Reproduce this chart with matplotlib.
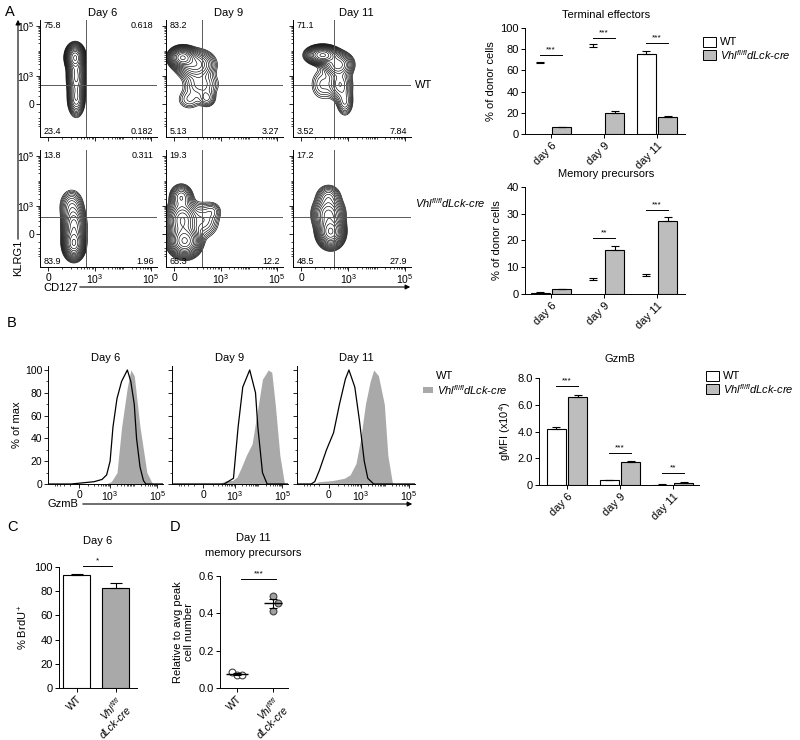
import numpy as np
import matplotlib
matplotlib.use("Agg")
import matplotlib.pyplot as plt
from matplotlib.patches import Rectangle, FancyArrowPatch

plt.rcParams["font.family"] = ["Liberation Sans", "DejaVu Sans"]
plt.rcParams["mathtext.fontset"] = "custom"
plt.rcParams["mathtext.rm"] = "Liberation Sans"
plt.rcParams["mathtext.it"] = "Liberation Sans:italic"
plt.rcParams["font.size"] = 7
plt.rcParams["axes.linewidth"] = 0.7

W, H = 800, 740
KO_LABEL = "Vhl$^{fl/fl}$dLck-cre"

# ---------------- data ----------------
days = ["Day 6", "Day 9", "Day 11"]
day_ticks = ["day 6", "day 9", "day 11"]

# quadrant percentages: top-left, top-right, bottom-left, bottom-right
wt_quadrants = [["75.8", "0.618", "23.4", "0.182"],
                ["83.2", "", "5.13", "3.27"],
                ["71.1", "", "3.52", "7.84"]]
ko_quadrants = [["13.8", "0.311", "83.9", "1.96"],
                ["19.3", "", "65.3", "12.2"],
                ["17.2", "", "48.5", "27.9"]]

# contour populations: (cx, cy, sx, sy, weight) in display units (0..1)
wt_blobs = [
    [(0.30, 0.68, 0.035, 0.05, 1.0), (0.31, 0.52, 0.035, 0.08, 0.5), (0.31, 0.33, 0.033, 0.07, 0.35)],
    [(0.14, 0.68, 0.05, 0.04, 1.0), (0.25, 0.62, 0.08, 0.06, 0.35), (0.30, 0.45, 0.08, 0.06, 0.12),
     (0.35, 0.33, 0.04, 0.04, 0.10), (0.20, 0.32, 0.06, 0.05, 0.06)],
    [(0.25, 0.70, 0.06, 0.035, 1.0), (0.38, 0.62, 0.06, 0.05, 0.4), (0.40, 0.45, 0.05, 0.07, 0.2),
     (0.44, 0.30, 0.035, 0.06, 0.12), (0.25, 0.45, 0.06, 0.08, 0.06)],
]
ko_blobs = [
    [(0.29, 0.20, 0.04, 0.06, 1.0), (0.29, 0.35, 0.045, 0.08, 0.55), (0.27, 0.52, 0.05, 0.07, 0.15)],
    [(0.16, 0.22, 0.06, 0.06, 1.0), (0.14, 0.40, 0.06, 0.08, 0.6), (0.13, 0.60, 0.045, 0.05, 0.25),
     (0.32, 0.40, 0.07, 0.08, 0.12), (0.40, 0.48, 0.04, 0.04, 0.05)],
    [(0.32, 0.30, 0.05, 0.06, 1.0), (0.30, 0.45, 0.06, 0.07, 0.5), (0.30, 0.60, 0.05, 0.05, 0.15)],
]
gate_x = [0.39, 0.31, 0.35]
gate_y = [0.445, 0.43]

# terminal effectors / memory precursors (% of donor cells)
te_wt = [67.0, 82.0, 75.5]
te_wt_err = [1.2, 2.5, 2.5]
te_ko = [6.2, 19.8, 16.5]
te_ko_err = [0.5, 1.9, 0.7]
te_sig = [("***", 74.5), ("***", 90.5), ("***", 86.0)]

mp_wt = [0.5, 5.3, 6.6]
mp_wt_err = [0.1, 0.7, 0.7]
mp_ko = [1.8, 16.3, 27.3]
mp_ko_err = [0.2, 1.8, 1.3]
mp_sig = [("", 0), ("**", 20.8), ("***", 31.4)]

# GzmB histograms (display position, % of max)
hist_wt = [
    ([0.00, 0.20, 0.30, 0.40, 0.47, 0.51, 0.54, 0.565, 0.60, 0.64, 0.69, 0.72, 0.75, 0.77, 0.80, 0.83, 0.85, 1.00],
     [0, 0, 1, 2, 4, 8, 20, 50, 75, 90, 100, 90, 70, 40, 15, 3, 0, 0]),
    ([0.00, 0.45, 0.53, 0.57, 0.61, 0.67, 0.72, 0.74, 0.78, 0.82, 1.00],
     [0, 0, 5, 50, 85, 100, 80, 50, 10, 0, 0]),
    ([0.00, 0.12, 0.15, 0.19, 0.25, 0.31, 0.36, 0.41, 0.44, 0.49, 0.53, 0.57, 0.60, 0.65, 1.00],
     [0, 0, 2, 12, 30, 45, 70, 92, 100, 85, 55, 20, 5, 0, 0]),
]
hist_ko = [
    ([0.00, 0.50, 0.55, 0.60, 0.64, 0.69, 0.72, 0.75, 0.80, 0.86, 0.91, 1.00],
     [0, 0, 2, 10, 50, 85, 100, 95, 50, 10, 0, 0]),
    ([0.00, 0.40, 0.47, 0.52, 0.56, 0.60, 0.64, 0.69, 0.73, 0.78, 0.83, 0.86, 0.89, 0.93, 0.97, 1.00],
     [0, 0, 3, 3, 6, 15, 25, 35, 60, 92, 100, 98, 70, 25, 0, 0]),
    ([0.00, 0.12, 0.19, 0.30, 0.40, 0.45, 0.50, 0.54, 0.58, 0.62, 0.65, 0.69, 0.74, 0.77, 0.81, 1.00],
     [0, 0, 2, 3, 5, 8, 18, 40, 70, 90, 100, 95, 70, 25, 0, 0]),
]

# GzmB gMFI (x10^4)
gz_wt = [4.2, 0.35, 0.03]
gz_wt_err = [0.1, 0.03, 0.01]
gz_ko = [6.55, 1.7, 0.18]
gz_ko_err = [0.2, 0.12, 0.03]
gz_sig = [("***", 7.4), ("***", 2.4), ("**", 0.9)]

# BrdU
brdu_groups = ["WT", "Vhl$^{fl/fl}$\ndLck-cre"]
brdu_vals = [93.2, 82.6]
brdu_err = [0.7, 4.2]

# memory precursor numbers
mem_wt = [0.088, 0.070, 0.072]
mem_ko = [0.495, 0.455, 0.41]

# ---------------- helpers ----------------
fig = plt.figure(figsize=(8, 7.4), dpi=100)


def px_axes(x0, y0, x1, y1):
    return fig.add_axes([x0 / W, 1 - y1 / H, (x1 - x0) / W, (y1 - y0) / H])


def ftext(x, y, s, **kw):
    fig.text(x / W, 1 - y / H, s, **kw)


def farrow(x0, y0, x1, y1):
    fig.add_artist(FancyArrowPatch((x0 / W, 1 - y0 / H), (x1 / W, 1 - y1 / H),
                                   transform=fig.transFigure, arrowstyle="-|>",
                                   mutation_scale=7, lw=0.8, color="k"))


def logicle_ticks(d0, d3, d5):
    minor = []
    for dec in (3, 4):
        for m in range(2, 10):
            minor.append(d3 + (np.log10(m) + dec - 3) / 2 * (d5 - d3))
    minor.append(d3 + 0.5 * (d5 - d3))
    for v in range(100, 1000, 100):
        minor.append(d0 + (d3 - d0) * np.arcsinh(v / 100) / np.arcsinh(10))
    for v in range(100, 600, 100):
        minor.append(d0 - (d3 - d0) * np.arcsinh(v / 100) / np.arcsinh(10))
    return [m for m in minor if 0 <= m <= 1]


def flow_style(ax):
    for s in ("top", "right"):
        ax.spines[s].set_visible(False)
    ax.tick_params(which="major", length=3, width=0.6, pad=1, labelsize=7.5)
    ax.tick_params(which="minor", length=1.5, width=0.5)


def prism_style(ax, size=8):
    for s in ("top", "right"):
        ax.spines[s].set_visible(False)
    ax.tick_params(length=3, width=0.7, pad=1.5, labelsize=size)


# ---------------- panel A: contour plots ----------------
g = np.linspace(0, 1, 220)
X, Y = np.meshgrid(g, g)
cols = [(40, 157), (166, 283), (293, 411)]
rows = [(20, 137), (150, 267)]
xt_pos = [0.07, 0.47, 0.95]
yt_pos = [0.28, 0.52, 0.95]
xminor = logicle_ticks(*xt_pos)
yminor = logicle_ticks(*yt_pos)
for r, (blobs_row, quads_row) in enumerate([(wt_blobs, wt_quadrants), (ko_blobs, ko_quadrants)]):
    for c in range(3):
        ax = px_axes(cols[c][0], rows[r][0], cols[c][1], rows[r][1])
        Z = np.zeros_like(X)
        for cx, cy, sx, sy, w in blobs_row[c]:
            Z += w * np.exp(-((X - cx) ** 2 / (2 * sx ** 2) + (Y - cy) ** 2 / (2 * sy ** 2)))
        levels = Z.max() * np.geomspace(0.02, 0.93, 16)
        ax.contour(X, Y, Z, levels=levels, colors="k", linewidths=0.45)
        ax.axvline(gate_x[c], color="0.35", lw=0.7)
        ax.axhline(gate_y[r], color="0.35", lw=0.7)
        ax.set_xlim(0, 1)
        ax.set_ylim(0, 1)
        ax.set_xticks(xt_pos)
        ax.set_xticks(xminor, minor=True)
        ax.set_yticks(yt_pos)
        ax.set_yticks(yminor, minor=True)
        ax.set_xticklabels(["0", "10$^3$", "10$^5$"] if r == 1 else [])
        ax.set_yticklabels(["0", "10$^3$", "10$^5$"] if c == 0 else [])
        flow_style(ax)
        q = quads_row[c]
        kw = dict(transform=ax.transAxes, fontsize=6.5)
        ax.text(0.03, 0.955, q[0], ha="left", va="center", **kw)
        ax.text(0.97, 0.955, q[1], ha="right", va="center", **kw)
        ax.text(0.03, 0.045, q[2], ha="left", va="center", **kw)
        ax.text(0.97, 0.045, q[3], ha="right", va="center", **kw)
        if r == 0:
            ftext((cols[c][0] + cols[c][1]) / 2 + 4, 13, days[c], ha="center", va="center", fontsize=8)

ftext(415, 85, "WT", ha="left", va="center", fontsize=8)
ftext(415, 203, KO_LABEL, ha="left", va="center", fontsize=8, style="italic")
ftext(10, 12, "A", ha="center", va="center", fontsize=10.5)
farrow(18, 242, 18, 17)
ftext(18, 258, "KLRG1", rotation=90, ha="center", va="center", fontsize=8)
farrow(77, 287, 413, 287)
ftext(43, 288, "CD127", ha="left", va="center", fontsize=8)


# ---------------- bar chart helper ----------------
def bar_panel(ax, wt, wt_err, ko, ko_err, wt_edges, sig, ymax):
    x = np.arange(3)
    ax.bar(x - 0.2, wt, 0.36, color="white",
           edgecolor=["k" if e else "none" for e in wt_edges], linewidth=0.8, zorder=2)
    ax.bar(x + 0.2, ko, 0.36, color="#bdbdbd", edgecolor="k", linewidth=0.8, zorder=2)
    ax.errorbar(x - 0.2, wt, yerr=[np.zeros(3), wt_err], fmt="none", ecolor="k",
                elinewidth=0.8, capsize=3, capthick=0.8, zorder=3)
    ax.errorbar(x + 0.2, ko, yerr=[np.zeros(3), ko_err], fmt="none", ecolor="k",
                elinewidth=0.8, capsize=3, capthick=0.8, zorder=3)
    for i, (s, y) in enumerate(sig):
        if s:
            ax.plot([i - 0.2, i + 0.2], [y, y], color="k", lw=0.7, clip_on=False)
            ax.text(i, y + ymax * 0.015, s, ha="center", va="bottom", fontsize=6)
    ax.set_xticks(x)
    ax.set_xticklabels(day_ticks, rotation=45, ha="right", rotation_mode="anchor")
    prism_style(ax)


def legend_box(x, y, fc, text):
    fig.add_artist(Rectangle(((x) / W, 1 - (y + 5) / H), 13 / W, 10 / H, transform=fig.transFigure,
                             facecolor=fc, edgecolor="k", lw=0.7))
    ftext(x + 17, y, text, ha="left", va="center", fontsize=8,
          style="italic" if text != "WT" else "normal")


# Terminal effectors
ax = px_axes(525, 28, 685, 134)
bar_panel(ax, te_wt, te_wt_err, te_ko, te_ko_err, [False, False, True], te_sig, 100)
ax.set_xlim(-0.49, 2.53)
ax.set_ylim(0, 100)
ax.set_yticks([0, 20, 40, 60, 80, 100])
ax.set_ylabel("% of donor cells", fontsize=8, labelpad=3)
ftext(606, 15, "Terminal effectors", ha="center", va="center", fontsize=8)
legend_box(703, 42, "white", "WT")
legend_box(703, 55, "#bdbdbd", KO_LABEL)

# Memory precursors
ax = px_axes(525, 187, 685, 294)
bar_panel(ax, mp_wt, mp_wt_err, mp_ko, mp_ko_err, [True, False, False], mp_sig, 40)
ax.set_xlim(-0.49, 2.53)
ax.set_ylim(0, 40)
ax.set_yticks([0, 10, 20, 30, 40])
ax.set_ylabel("% of donor cells", fontsize=8, labelpad=3)
ftext(606, 174, "Memory precursors", ha="center", va="center", fontsize=8)

# ---------------- panel B: histograms ----------------
ftext(12, 323, "B", ha="center", va="center", fontsize=10.5)
hcols = [(48, 163), (172, 288), (297, 415)]
ht_pos = [0.27, 0.54, 0.95]
hminor = logicle_ticks(*ht_pos)
for c in range(3):
    ax = px_axes(hcols[c][0], 366, hcols[c][1], 484)
    kx, ky = hist_ko[c]
    wx, wy = hist_wt[c]
    ax.fill_between(kx, ky, color="#a9a9a9", lw=0)
    ax.plot(wx, wy, color="k", lw=0.9)
    ax.set_xlim(0, 1)
    ax.set_ylim(0, 103.5)
    ax.set_xticks(ht_pos)
    ax.set_xticks(hminor, minor=True)
    ax.set_xticklabels(["0", "10$^3$", "10$^5$"])
    ax.set_yticks([0, 20, 40, 60, 80, 100])
    ax.set_yticks(np.arange(10, 100, 20), minor=True)
    ax.set_yticklabels(["0", "20", "40", "60", "80", "100"] if c == 0 else [])
    flow_style(ax)
    ftext((hcols[c][0] + hcols[c][1]) / 2, 358, days[c], ha="center", va="center", fontsize=8)
    if c == 0:
        ax.set_ylabel("% of max", fontsize=8, labelpad=2)

farrow(80, 504, 415, 504)
ftext(48, 504, "GzmB", ha="left", va="center", fontsize=8)
ftext(436, 376, "WT", ha="left", va="center", fontsize=8)
fig.add_artist(Rectangle((423 / W, 1 - 393 / H), 10 / W, 6 / H, transform=fig.transFigure,
                         facecolor="#a9a9a9", edgecolor="none"))
ftext(437, 390, KO_LABEL, ha="left", va="center", fontsize=8, style="italic")

# GzmB gMFI
ax = px_axes(539, 378, 699, 485)
bar_panel(ax, gz_wt, gz_wt_err, gz_ko, gz_ko_err, [True, True, True], gz_sig, 8)
ax.set_xlim(-0.53, 2.49)
ax.set_ylim(0, 8)
ax.set_yticks([0, 2, 4, 6, 8])
ax.set_yticklabels(["0", "2.0", "4.0", "6.0", "8.0"])
ax.set_ylabel("gMFI (x10$^4$)", fontsize=8, labelpad=3)
ftext(620, 359, "GzmB", ha="center", va="center", fontsize=8)
legend_box(706, 376, "white", "WT")
legend_box(706, 389, "#bdbdbd", KO_LABEL)

# ---------------- panel C: BrdU ----------------
ftext(12, 527, "C", ha="center", va="center", fontsize=10.5)
ax = px_axes(59, 567, 137, 688)
xc = np.arange(2)
ax.bar(xc, brdu_vals, 0.69, color=["white", "#a9a9a9"], edgecolor="k", linewidth=0.8, zorder=2)
ax.errorbar(xc, brdu_vals, yerr=[np.zeros(2), brdu_err], fmt="none", ecolor="k",
            elinewidth=0.8, capsize=4, capthick=0.8, zorder=3)
ax.plot([0.15, 0.9], [101, 101], color="k", lw=0.7, clip_on=False)
ax.text(0.52, 102, "*", ha="center", va="bottom", fontsize=6)
ax.set_xlim(-0.46, 1.54)
ax.set_ylim(0, 100)
ax.set_yticks([0, 20, 40, 60, 80, 100])
ax.set_xticks(xc)
ax.set_xticklabels(brdu_groups, rotation=45, ha="right", rotation_mode="anchor", style="italic",
                   linespacing=1.1)
ax.get_xticklabels()[0].set_style("normal")
ax.set_ylabel("% BrdU$^+$", fontsize=8, labelpad=3)
prism_style(ax)
ax.tick_params(axis="x", labelsize=7.5)
ftext(98, 541, "Day 6", ha="center", va="center", fontsize=8)

# ---------------- panel D: memory precursor numbers ----------------
ftext(175, 527, "D", ha="center", va="center", fontsize=10.5)
ax = px_axes(220, 576, 288, 688)
jitter = [-0.14, 0.0, 0.14]
jitter_ko = [0.0, 0.14, 0.0]
for i, (vals, fc, jit, hw) in enumerate([(mem_wt, "white", jitter, 0.3), (mem_ko, "#a0a0a0", jitter_ko, 0.25)]):
    ax.scatter(np.array(jit) + i, vals, s=24, facecolor=fc, edgecolor="0.25", lw=0.8, zorder=2)
    m = np.mean(vals)
    sem = np.std(vals, ddof=1) / np.sqrt(len(vals))
    ax.hlines(m, i - hw, i + hw, color="k", lw=1.0, zorder=3)
    ax.errorbar(i, m, yerr=sem, fmt="none", ecolor="k", elinewidth=0.8, capsize=3,
                capthick=0.8, zorder=3)
ax.plot([0.1, 1.1], [0.585, 0.585], color="k", lw=0.7, clip_on=False)
ax.text(0.6, 0.592, "***", ha="center", va="bottom", fontsize=6)
ax.set_xlim(-0.47, 1.42)
ax.set_ylim(0, 0.6)
ax.set_yticks([0, 0.2, 0.4, 0.6])
ax.set_yticklabels(["0.0", "0.2", "0.4", "0.6"])
ax.set_xticks([0, 1])
ax.set_xticklabels(brdu_groups, rotation=45, ha="right", rotation_mode="anchor", style="italic",
                   linespacing=1.1)
ax.get_xticklabels()[0].set_style("normal")
ax.set_ylabel("Relative to avg peak\ncell number", fontsize=8, labelpad=3)
prism_style(ax)
ax.tick_params(axis="x", labelsize=7.5)
ftext(253, 538, "Day 11", ha="center", va="center", fontsize=8)
ftext(253, 553, "memory precursors", ha="center", va="center", fontsize=8)

fig.savefig("out.png", dpi=100)
